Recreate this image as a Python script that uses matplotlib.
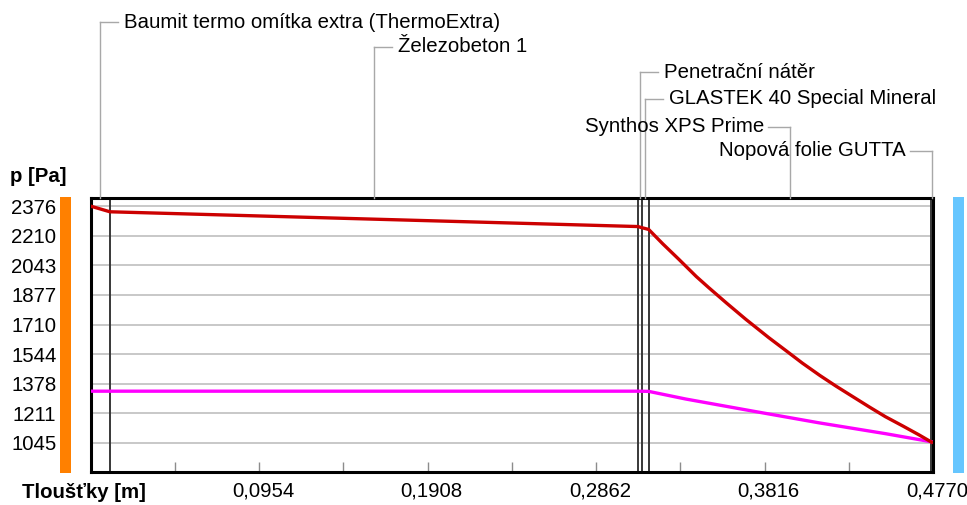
import numpy as np
import matplotlib
matplotlib.use("Agg")
import matplotlib.pyplot as plt
from matplotlib.lines import Line2D
from matplotlib.patches import Rectangle
from matplotlib.transforms import ScaledTranslation

# --- data -------------------------------------------------------------------
layers = [
    "Baumit termo omítka extra (ThermoExtra)",
    "Železobeton 1",
    "Penetrační nátěr",
    "GLASTEK 40 Special Mineral",
    "Synthos XPS Prime",
    "Nopová folie GUTTA",
]
# layer interfaces [m]
boundaries = [0.0, 0.011, 0.310, 0.312, 0.316, 0.476, 0.477]

# saturated vapour pressure through the wall [Pa]
x_sat = [0.0, 0.011, 0.310, 0.312, 0.316, 0.324, 0.333, 0.343, 0.350,
         0.360, 0.371, 0.384, 0.394, 0.403, 0.413, 0.422, 0.431,
         0.441, 0.450, 0.460, 0.469, 0.477]
p_sat = [2376, 2344, 2261, 2255, 2245, 2164, 2078, 1980, 1918,
         1832, 1740, 1637, 1562, 1494, 1424, 1365, 1309,
         1247, 1193, 1140, 1091, 1045]

# partial vapour pressure through the wall [Pa]
x_par = [0.0, 0.310, 0.316, 0.337, 0.375, 0.4126, 0.4503, 0.477]
p_par = [1336, 1336, 1335, 1292, 1224, 1158, 1097, 1050]

x_label = "Tloušťky [m]"
y_label = "p [Pa]"

# --- layout -----------------------------------------------------------------
W, H = 967, 505
fig = plt.figure(figsize=(W / 100, H / 100), dpi=100)
plt.rcParams["font.family"] = ["Liberation Sans", "DejaVu Sans"]
FS = 14.7


def fx(px):
    return px / W


def fy(py):
    return 1 - py / H


ax_l, ax_r, ax_t, ax_b = 90.5, 933.0, 197.5, 472.0
ax = fig.add_axes([fx(ax_l), fy(ax_b), fx(ax_r) - fx(ax_l), fy(ax_t) - fy(ax_b)])

x_max = boundaries[-1]
p_lo, p_hi = min(p_sat), max(p_sat)
yticks = np.linspace(p_lo, p_hi, 9)
step = yticks[1] - yticks[0]
ax.set_xlim(0, x_max)
ax.set_ylim(p_lo - 0.98 * step, p_hi + 0.29 * step)

# horizontal grid
ax.set_yticks(yticks)
ax.set_yticklabels([f"{v:.0f}" for v in yticks], fontsize=FS)
ax.yaxis.grid(True, color="#c8c8c8", lw=1.4, zorder=0)
ax.tick_params(axis="y", length=0, pad=24.5)

# thickness ticks
xticks = np.arange(1, 11) * x_max / 10
ax.set_xticks(xticks)
ax.set_xticklabels([f"{v:.4f}".replace(".", ",") if i % 2 == 1 else ""
                    for i, v in enumerate(xticks)], fontsize=FS)
ax.tick_params(axis="x", direction="in", length=7.2, width=1.0,
               color="#8c8c8c", pad=7)
shift = ScaledTranslation(4 / 100, 0, fig.dpi_scale_trans)
for lbl in ax.get_xticklabels():
    lbl.set_transform(lbl.get_transform() + shift)

for s in ax.spines.values():
    s.set_linewidth(2.2)
    s.set_color("black")

# layer interfaces
for b in boundaries[1:-1]:
    ax.axvline(b, color="#383838", lw=1.4, zorder=2)

# pressure curves
ax.plot(x_par, p_par, color="#ff00ff", lw=2.4, zorder=4, solid_capstyle="butt")
ax.plot(x_sat, p_sat, color="#cc0000", lw=2.4, zorder=5, solid_capstyle="butt")

# interior / exterior side bars
fig.patches.append(Rectangle((fx(60), fy(473)), fx(71) - fx(60), fy(197) - fy(473),
                             transform=fig.transFigure, color="#ff8000", lw=0))
fig.patches.append(Rectangle((fx(953), fy(473)), fx(964) - fx(953), fy(197) - fy(473),
                             transform=fig.transFigure, color="#66c6ff", lw=0))

# layer name callouts
label_rows = [22.0, 47.0, 72.0, 98.5, 126.5, 151.0]
label_right = [True, True, True, True, False, False]
lead_col = "#a8a8a8"
for name, row, right, b0, b1 in zip(layers, label_rows, label_right,
                                     boundaries[:-1], boundaries[1:]):
    mid_px = ax.transData.transform(((b0 + b1) / 2, 0))[0]
    mid_px = min(mid_px, ax_r - 1)
    fig.add_artist(Line2D([fx(mid_px), fx(mid_px)], [fy(row), fy(ax_t)],
                          transform=fig.transFigure, color=lead_col, lw=1.0))
    if right:
        end = mid_px + 18
        tx, ha = end + 6, "left"
    else:
        end = mid_px - 22
        tx, ha = end - 4, "right"
    fig.add_artist(Line2D([fx(mid_px), fx(end)], [fy(row), fy(row)],
                          transform=fig.transFigure, color=lead_col, lw=1.0))
    fig.text(fx(tx), fy(row), name, ha=ha, va="center", fontsize=FS)

fig.text(fx(10), fy(176), y_label, ha="left", va="center", fontsize=FS,
         fontweight="bold")
fig.text(fx(22), fy(492), x_label, ha="left", va="center", fontsize=FS,
         fontweight="bold")

fig.savefig("out.png", dpi=100)
